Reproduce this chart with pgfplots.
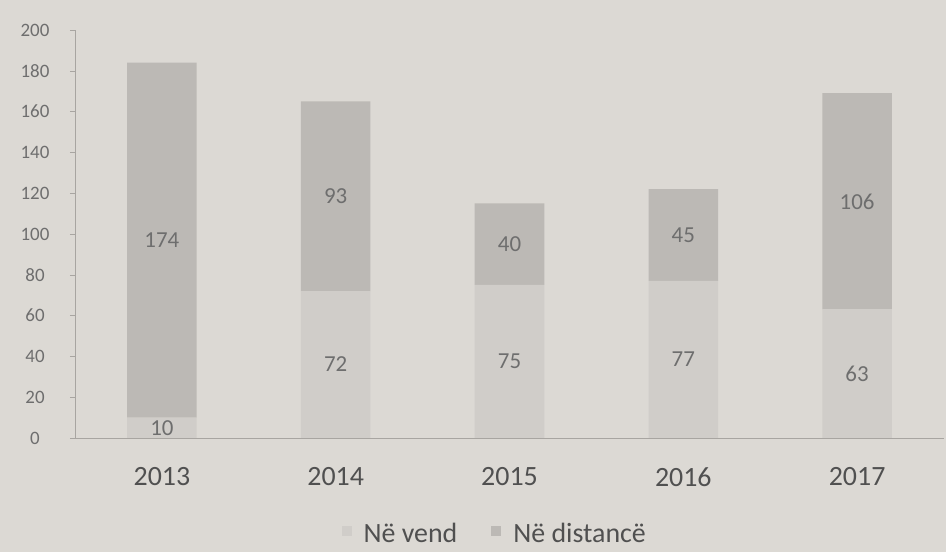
\documentclass[border=0pt]{standalone}
\usepackage{pgfplots}
\pgfplotsset{compat=1.18}
\usepackage{fontspec}
\setmainfont{Carlito}
\definecolor{bgcol}{HTML}{DCD9D4}
\definecolor{topcol}{HTML}{BCB9B5}
\definecolor{botcol}{HTML}{D0CDC9}
\definecolor{axisgray}{HTML}{A8A5A1}
\definecolor{txtgray}{HTML}{6E6E6E}
\definecolor{yeargray}{HTML}{505050}
\pgfplotsset{frame/.style={at={(75bp,114bp)}, anchor=south west,
  scale only axis, width=869bp, height=408bp,
  xmin=-0.5, xmax=4.5, ymin=0, ymax=200}}
\begin{document}
\begin{tikzpicture}
\fill[bgcol, use as bounding box] (0,0) rectangle (946bp,552bp);
\begin{axis}[
  frame,
  ybar stacked, bar width=0.4,
  axis x line*=bottom, axis y line*=left,
  axis line style={draw=axisgray, -, line width=0.8bp},
  tick align=outside,
  xtick={0,1,2,3,4}, xticklabels={2013,2014,2015,2016,2017},
  x tick label style={font=\fontsize{28}{30}\selectfont, text=yeargray, anchor=center, yshift=-34bp},
  major x tick style={draw=none},
  extra x ticks={0.5,1.5,2.5,3.5}, extra x tick labels={},
  extra x tick style={major tick length=5bp, tick style={draw=axisgray}},
  ytick={0,20,...,200},
  y tick label style={font=\fontsize{19}{21}\selectfont, text=txtgray, anchor=center, xshift=-35bp},
  /pgf/number format/assume math mode=true,
  major y tick style={draw=axisgray},
  major tick length=5bp,
  legend style={at={(0.483,-0.235)}, anchor=center, draw=none, fill=none,
    font=\fontsize{28}{30}\selectfont, text=yeargray, legend columns=2,
    /tikz/every odd column/.append style={column sep=10bp},
    /tikz/every even column/.append style={column sep=32bp}},
  legend image code/.code={\fill[#1] (0bp,-2bp) rectangle (10bp,8bp);},
]
\addplot[fill=botcol, draw=none] coordinates {(0,10) (1,72) (2,75) (3,77) (4,63)};
\addplot[fill=topcol, draw=none] coordinates {(0,174) (1,93) (2,40) (3,45) (4,106)};
\legend{Në vend, Në distancë}
\end{axis}
\begin{axis}[frame, hide axis]
\addplot[draw=none, mark=none, point meta=explicit symbolic, nodes near coords,
  nodes near coords style={anchor=center, font=\fontsize{23}{25}\selectfont, text=txtgray}]
  coordinates {(0,5) [10] (1,36) [72] (2,37.5) [75] (3,38.5) [77] (4,31.5) [63]
               (0,97) [174] (1,118.5) [93] (2,95) [40] (3,99.5) [45] (4,116) [106]};
\end{axis}
\end{tikzpicture}
\end{document}
